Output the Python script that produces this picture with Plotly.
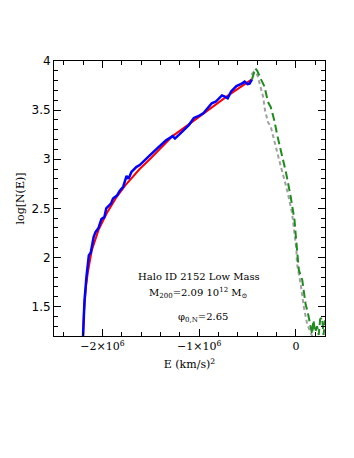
import plotly.graph_objects as go

# Energy (km/s)^2 and log N(E)
blue_E = [-2.20e6, -2.185e6, -2.165e6, -2.14e6, -2.12e6, -2.09e6, -2.07e6, -2.04e6, -2.01e6,
          -1.98e6, -1.96e6, -1.93e6, -1.91e6, -1.89e6, -1.85e6, -1.82e6, -1.785e6, -1.75e6,
          -1.73e6, -1.70e6, -1.65e6, -1.615e6, -1.58e6, -1.51e6, -1.445e6, -1.345e6, -1.275e6,
          -1.25e6, -1.175e6, -1.105e6, -1.055e6, -1.005e6, -0.955e6, -0.91e6, -0.87e6, -0.83e6,
          -0.765e6, -0.74e6, -0.705e6, -0.67e6, -0.615e6, -0.56e6, -0.53e6, -0.50e6, -0.48e6,
          -0.455e6]
blue_N = [1.20, 1.56, 1.80, 2.02, 2.05, 2.21, 2.26, 2.30, 2.39,
          2.41, 2.50, 2.53, 2.55, 2.60, 2.63, 2.68, 2.72, 2.83,
          2.80, 2.87, 2.92, 2.94, 2.97, 3.04, 3.10, 3.19, 3.235,
          3.21, 3.28, 3.35, 3.42, 3.44, 3.47, 3.52, 3.57, 3.585,
          3.65, 3.64, 3.62, 3.69, 3.745, 3.77, 3.79, 3.765, 3.77,
          3.81]

red_E = [-2.20e6, -2.19e6, -2.17e6, -2.15e6, -2.11e6, -2.04e6, -1.955e6, -1.85e6, -1.75e6,
         -1.615e6, -1.5e6, -1.275e6, -1.1e6, -0.935e6, -0.7e6, -0.46e6]
red_N = [1.20, 1.45, 1.70, 1.85, 2.07, 2.28, 2.45, 2.62, 2.75,
         2.90, 3.01, 3.235, 3.36, 3.48, 3.65, 3.81]

green_E = [-0.455e6, -0.435e6, -0.42e6, -0.40e6, -0.385e6, -0.36e6, -0.325e6, -0.30e6, -0.29e6,
           -0.26e6, -0.225e6, -0.19e6, -0.155e6, -0.10e6, -0.055e6, -0.035e6, -0.015e6, 0.0,
           0.015e6, 0.03e6, 0.065e6, 0.085e6, 0.10e6, 0.12e6, 0.14e6, 0.15e6, 0.167e6, 0.18e6,
           0.20e6, 0.218e6, 0.235e6, 0.25e6, 0.27e6, 0.285e6, 0.30e6]
green_N = [3.81, 3.88, 3.925, 3.90, 3.86, 3.81, 3.74, 3.62, 3.585,
           3.53, 3.40, 3.23, 3.09, 2.85, 2.62, 2.50, 2.38, 2.20,
           2.00, 1.87, 1.77, 1.62, 1.52, 1.45, 1.36, 1.32, 1.22, 1.36,
           1.24, 1.30, 1.21, 1.37, 1.39, 1.21, 1.36]

grey_E = [-0.46e6, -0.435e6, -0.40e6, -0.375e6, -0.34e6, -0.32e6, -0.29e6, -0.26e6, -0.225e6,
          -0.207e6, -0.155e6, -0.09e6, -0.04e6, -0.01e6, 0.005e6, 0.01e6, 0.048e6, 0.082e6,
          0.116e6, 0.15e6, 0.17e6]
grey_N = [3.86, 3.89, 3.86, 3.77, 3.64, 3.50, 3.38, 3.33, 3.19,
          3.11, 2.92, 2.68, 2.45, 2.20, 2.07, 1.94, 1.73, 1.49,
          1.32, 1.24, 1.19]

x_tickvals = [-2e6, -1e6, 0]
x_ticktext = ["\u22122\u00d710<sup>6</sup>", "\u22121\u00d710<sup>6</sup>", "0"]

SERIF = "DejaVu Serif"

fig = go.Figure()
fig.add_trace(go.Scatter(x=grey_E, y=grey_N, mode="lines",
                         line=dict(color="#a0a0a0", width=2, dash="4px,3px")))
fig.add_trace(go.Scatter(x=green_E, y=green_N, mode="lines",
                         line=dict(color="#1f8a1f", width=2, dash="8px,4px")))
fig.add_trace(go.Scatter(x=red_E, y=red_N, mode="lines",
                         line=dict(color="#ff0000", width=2)))
fig.add_trace(go.Scatter(x=blue_E, y=blue_N, mode="lines",
                         line=dict(color="#0000ff", width=2.5)))

labels = [
    (0.535, 0.216, "Halo ID 2152 Low Mass"),
    (0.535, 0.155, "M<sub>200</sub>=2.09 10<sup>12</sup> M<sub>\u2299</sub>"),
    (0.55, 0.066, "\u03c6<sub>0,N</sub>=2.65"),
]
for lx, ly, txt in labels:
    fig.add_annotation(x=lx, y=ly, xref="paper", yref="paper", showarrow=False,
                       xanchor="center", yanchor="middle", text=txt,
                       font=dict(family=SERIF, size=10, color="black"))

fig.update_xaxes(range=[-2.5e6, 0.3e6], tickvals=x_tickvals, ticktext=x_ticktext,
                 ticks="inside", ticklen=7, tickcolor="black", mirror="ticks",
                 showline=True, linecolor="black", linewidth=1, showgrid=False, zeroline=False,
                 minor=dict(dtick=2e5, tick0=0, ticks="inside", ticklen=4, tickcolor="black", showgrid=False),
                 tickfont=dict(family=SERIF, size=11, color="black"),
                 title=dict(text="E (km/s)<sup>2</sup>", font=dict(family=SERIF, size=11, color="black"),
                            standoff=8))
fig.update_yaxes(range=[1.2, 4.0], tickvals=[1.5, 2, 2.5, 3, 3.5, 4],
                 ticktext=["1.5", "2", "2.5", "3", "3.5", "4"],
                 ticks="inside", ticklen=7, tickcolor="black", mirror="ticks",
                 showline=True, linecolor="black", linewidth=1, showgrid=False, zeroline=False,
                 minor=dict(dtick=0.1, tick0=0, ticks="inside", ticklen=4, tickcolor="black", showgrid=False),
                 tickfont=dict(family="DejaVu Sans", size=12, color="black"),
                 title=dict(text="log[N(E)]", font=dict(family=SERIF, size=11, color="black"),
                            standoff=4))

# the page body adds an 8px offset, so margins are shifted to land the axes where the reference has them
fig.update_layout(width=354, height=458, showlegend=False,
                  paper_bgcolor="white", plot_bgcolor="white",
                  margin=dict(l=41, r=37, t=53, b=130))

fig.write_html("out.html")
